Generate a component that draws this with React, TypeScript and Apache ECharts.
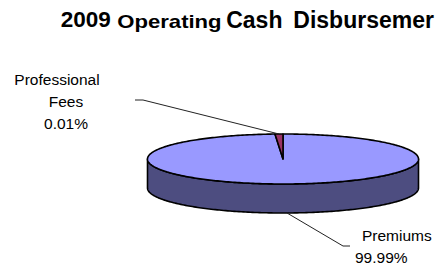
import React, { useEffect, useRef } from "react";
import * as echarts from "echarts";

// ---- data ----
const categories = ["Premiums", "Professional Fees"];
const shares = [99.99, 0.01];
const topColors = ["#9999FF", "#993366"];
const sideColors = ["#4D4D80", "#4D1A33"];
const titleParts = ["2009", "Operating", "Cash", "Disbursemer"];

// ---- geometry / layout (styling) ----
const CX = 283;
const CY = 159;
const RX = 135.5;
const RY = 25;
const DEPTH = 29;
const MIN_ANGLE = 3.4;
const FONT = "'Liberation Sans', Arial, sans-serif";

const titleLayout = [
  { x: 60.8, y: 19.7, size: 22.5, scaleX: 1 },
  { x: 117.3, y: 21.3, size: 18, scaleX: 1.228 },
  { x: 226.2, y: 19.5, size: 23, scaleX: 1 },
  { x: 293.3, y: 19.5, size: 23, scaleX: 1 },
];

const labelLayout = [
  { wrap: false, elbow: [343, 246], end: [350, 246], x: 355, y: 225, align: "left", firstPad: [0, 0, 0, 7], lineHeight: 21.5 },
  { wrap: true, elbow: [143, 100], end: [135, 100], x: 66, y: 68.5, align: "center", firstPad: [0, 18, 0, 0], lineHeight: 22 },
];

function computeAngles(values: number[]) {
  const total = values.reduce((s, v) => s + v, 0);
  const raw = values.map((v) => (v / total) * 360);
  const smallSum = raw.reduce((s, r) => s + (r < MIN_ANGLE ? MIN_ANGLE : 0), 0);
  const bigSum = raw.reduce((s, r) => s + (r >= MIN_ANGLE ? r : 0), 0);
  const scale = (360 - smallSum) / bigSum;
  const spans = raw.map((r) => (r < MIN_ANGLE ? MIN_ANGLE : r * scale));
  let start = 0;
  return spans.map((s) => {
    const a = start;
    start += s;
    return [a, start];
  });
}

function pt(theta: number, dy = 0): number[] {
  const r = (theta * Math.PI) / 180;
  return [CX + RX * Math.sin(r), CY - RY * Math.cos(r) + dy];
}

function arcPoints(a: number, b: number, dy: number): number[][] {
  const n = Math.max(2, Math.ceil(Math.abs(b - a)));
  const pts: number[][] = [];
  for (let i = 0; i <= n; i++) pts.push(pt(a + ((b - a) * i) / n, dy));
  return pts;
}

export default function App() {
  const ref = useRef<HTMLDivElement>(null);
  useEffect(() => {
    document.body.style.margin = "0";
    const chart = echarts.init(ref.current!, null, { renderer: "svg" });
    const total = shares.reduce((s, v) => s + v, 0);
    const angles = computeAngles(shares);

    const renderItem = (params: any, api: any) => {
      const i = params.dataIndex;
      const [a, b] = angles[i];
      const children: any[] = [];
      const s = Math.max(a, 90);
      const e = Math.min(b, 270);
      if (e > s) {
        children.push({
          type: "polygon",
          z2: 1,
          shape: { points: arcPoints(s, e, 0).concat(arcPoints(e, s, DEPTH)) },
          style: { fill: sideColors[i], stroke: "#000", lineWidth: 1.6, lineJoin: "round" },
        });
      }
      children.push({
        type: "polygon",
        z2: 2,
        shape: { points: [[CX, CY]].concat(arcPoints(a, b, 0)) },
        style: { fill: topColors[i], stroke: "#000", lineWidth: 1.6, lineJoin: "round" },
      });
      const mid = (a + b) / 2;
      const anchor = mid > 90 && mid < 270 ? pt(mid, DEPTH) : pt(mid, 0);
      const L = labelLayout[i];
      children.push({
        type: "polyline",
        z2: 3,
        shape: { points: [anchor, L.elbow, L.end] },
        style: { stroke: "#222", lineWidth: 1, fill: null },
      });
      const v = api.value(0);
      const pct = ((v / total) * 100).toFixed(2) + "%";
      const nameLines = L.wrap ? categories[i].split(" ") : [categories[i]];
      const text = ["{f|" + nameLines[0] + "}"]
        .concat(nameLines.slice(1).map((t) => "{n|" + t + "}"))
        .concat(["{n|" + pct + "}"])
        .join("\n");
      children.push({
        type: "text",
        z2: 3,
        style: {
          text,
          x: L.x,
          y: L.y,
          align: L.align,
          verticalAlign: "top",
          fill: "#000",
          fontFamily: FONT,
          fontSize: 15.5,
          lineHeight: L.lineHeight,
          rich: {
            f: { fontFamily: FONT, fontSize: 15.5, lineHeight: L.lineHeight, padding: L.firstPad, fill: "#000" },
            n: { fontFamily: FONT, fontSize: 15.5, lineHeight: L.lineHeight, fill: "#000" },
          },
        },
      });
      return { type: "group", children };
    };

    chart.setOption({
      animation: false,
      backgroundColor: "#ffffff",
      graphic: titleParts.map((t, k) => ({
        type: "text",
        x: titleLayout[k].x,
        y: titleLayout[k].y,
        scaleX: titleLayout[k].scaleX,
        style: {
          text: t,
          fontFamily: FONT,
          fontWeight: "bold",
          fontSize: titleLayout[k].size,
          fill: "#000",
          align: "left",
          verticalAlign: "middle",
        },
      })),
      series: [
        {
          type: "custom",
          coordinateSystem: "none",
          renderItem,
          data: shares.map((v, i) => ({ value: [v], name: categories[i] })),
        },
      ],
    });
    return () => chart.dispose();
  }, []);
  return <div ref={ref} style={{ width: 435, height: 267 }} />;
}
